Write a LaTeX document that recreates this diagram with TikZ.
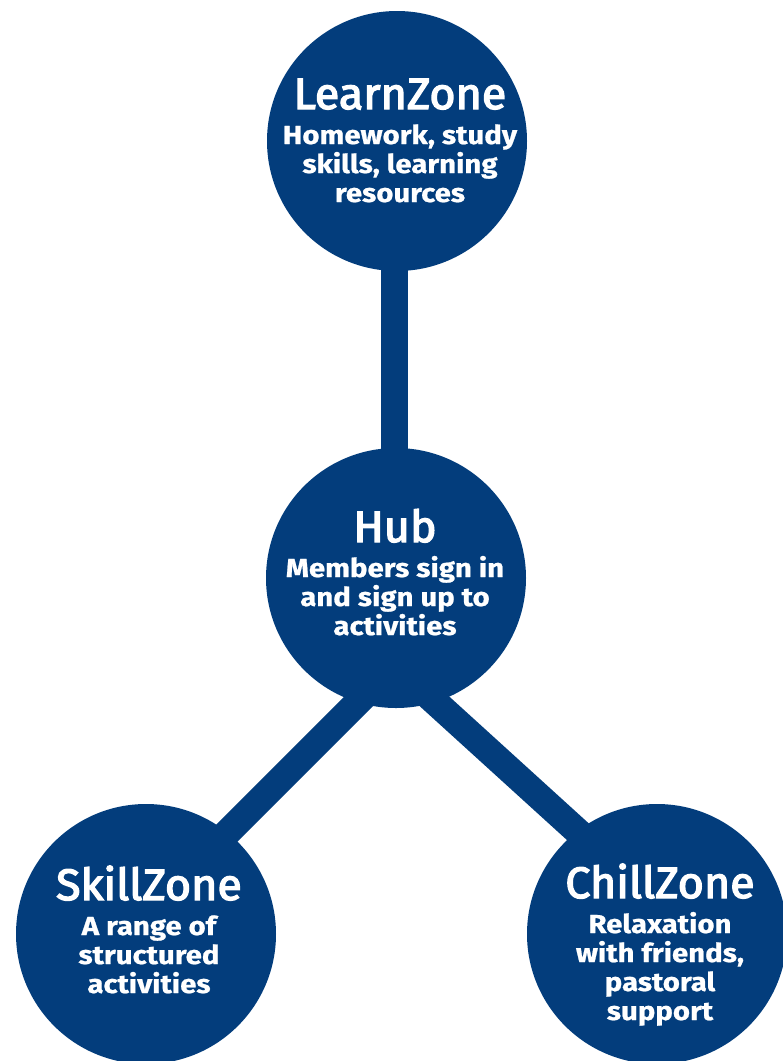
\documentclass[tikz,border=0pt]{standalone}
\usepackage{fontspec}
\setmainfont{Fira Sans}
\newfontfamily\zonebody{Fira Sans}[FakeStretch=1.13,FakeBold=0.8]
\newfontfamily\zonehead{Fira Sans}[FakeStretch=1.02,FakeBold=3]
\definecolor{navy}{HTML}{033D7C}
\newcommand{\zonetitle}{\zonehead\fontsize{44}{48}\selectfont\mdseries}
\begin{document}
\begin{tikzpicture}[x=1pt,y=-1pt,
  zone/.style={circle,fill=navy,draw=none,minimum size=260pt,inner sep=0pt},
  link/.style={draw=navy,line width=27pt},
  ztext/.style={text=white,align=center,anchor=base,inner sep=0pt,
    font=\zonebody\fontsize{26}{29}\selectfont\bfseries},
]
\useasboundingbox (0,0) rectangle (783,1061);
% circles
\node[zone] (learn) at (397,141) {};
\node[zone] (hub)   at (396,578) {};
\node[zone] (skill) at (146,934) {};
\node[zone] (chill) at (657,934) {};
% connector ends
\coordinate (lA) at (394,200);
\coordinate (lB) at (394,520);
\coordinate (sA) at (420,640);
\coordinate (sB) at (190,870);
\coordinate (cA) at (367,640);
\coordinate (cB) at (631,880);
\draw[link] (lA) -- (lB);
\draw[link] (sA) -- (sB);
\draw[link] (cA) -- (cB);
% texts (anchor = baseline of the last line)
\node[ztext] (learnT) at (400,202) {{\zonetitle LearnZone}\\[6pt]Homework, study\\skills, learning\\resources};
\node[ztext] (hubT) at (395,635) {{\zonetitle Hub}\\[6pt]Members sign in\\and sign up to\\activities};
\node[ztext] (skillT) at (149,993) {{\zonetitle SkillZone}\\[6pt]A range of\\structured\\activities};
\node[ztext] (chillT) at (660,1020) {{\zonetitle ChillZone}\\[6pt]Relaxation\\with friends,\\pastoral\\support};
\end{tikzpicture}
\end{document}
